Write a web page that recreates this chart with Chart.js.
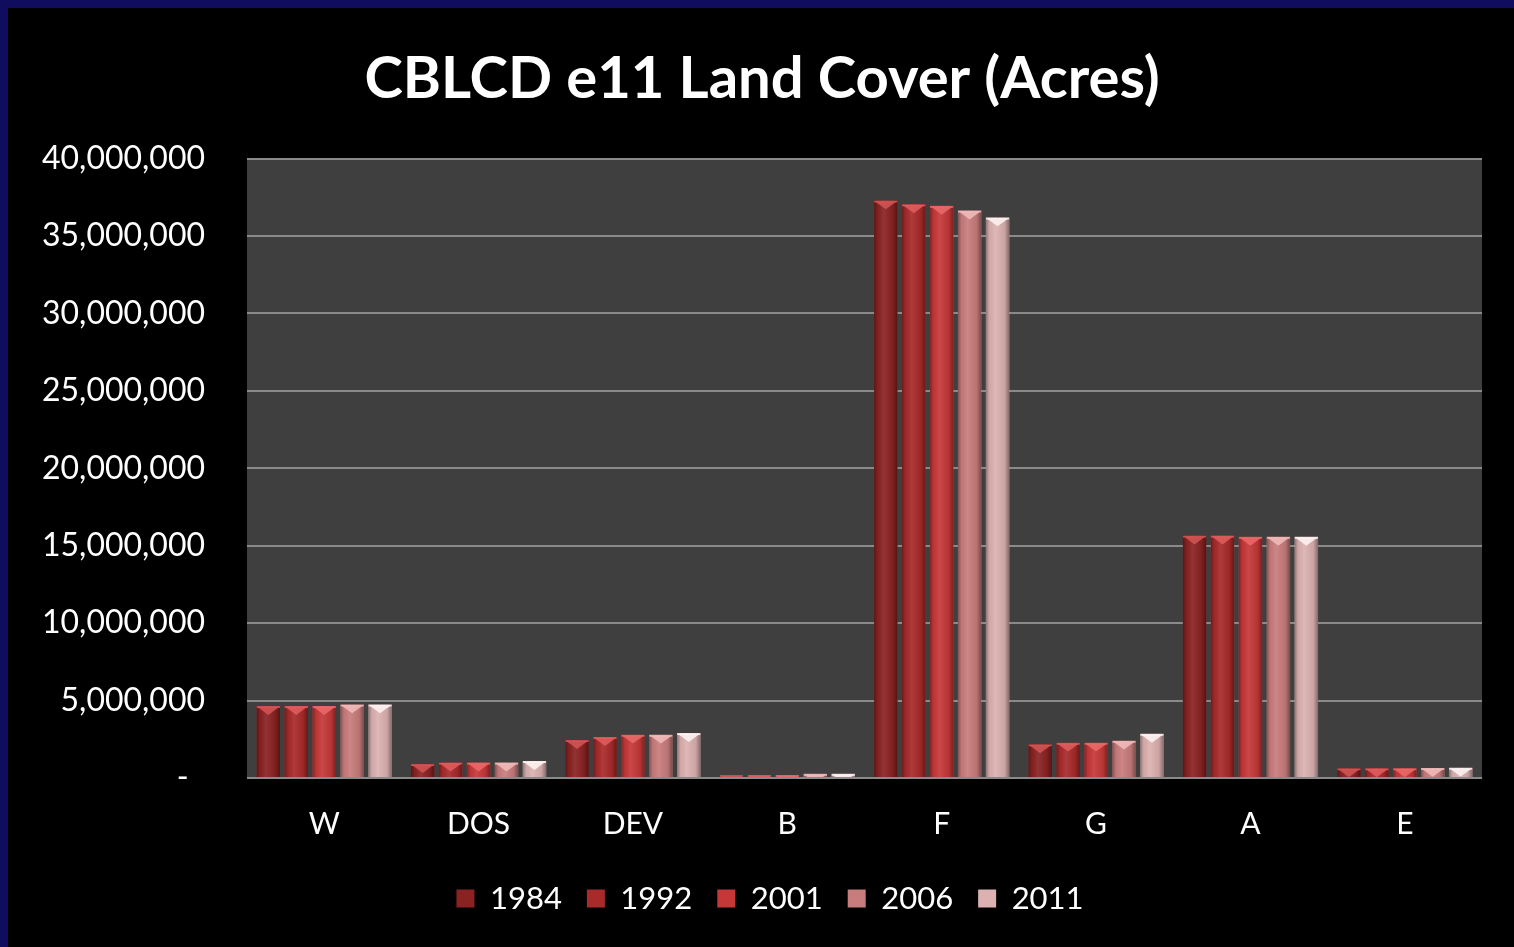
<!DOCTYPE html>
<html>
<head>
<meta charset="utf-8">
<script src="https://cdn.jsdelivr.net/npm/chart.js@4.4.1/dist/chart.umd.min.js"></script>
<style>
  html, body { margin: 0; padding: 0; background: #100c5e; }
  #frame { position: absolute; left: 8px; top: 8px; width: 1506px; height: 939px; background: #000; }
</style>
</head>
<body>
<div id="frame"><canvas id="landCover" width="1506" height="939"></canvas></div>
<script>
const categories = ["W", "DOS", "DEV", "B", "F", "G", "A", "E"];
const years = ["1984", "1992", "2001", "2006", "2011"];

// acres per land cover class
const acres1984 = [4650000, 900000, 2450000, 200000, 37300000, 2180000, 15660000, 630000];
const acres1992 = [4650000, 1000000, 2650000, 200000, 37050000, 2280000, 15660000, 630000];
const acres2001 = [4650000, 1000000, 2800000, 200000, 36950000, 2280000, 15580000, 630000];
const acres2006 = [4750000, 1000000, 2800000, 270000, 36650000, 2410000, 15580000, 650000];
const acres2011 = [4750000, 1100000, 2900000, 270000, 36200000, 2860000, 15580000, 670000];
const yTicks = [0, 5000000, 10000000, 15000000, 20000000, 25000000, 30000000, 35000000, 40000000];

const series = [acres1984, acres1992, acres2001, acres2006, acres2011];
const barColors = ["#8a2222", "#a82a2a", "#c63838", "#c97c7c", "#dcb1b1"];
const tipColors = ["#d45656", "#e05e5e", "#ea6a6a", "#f2bcbc", "#fff4f4"];

const FONT = "Lato";

// plot background
const plotBg = {
    id: "plotBg",
    beforeDraw(chart) {
        const { ctx, chartArea: a } = chart;
        ctx.save();
        ctx.fillStyle = "#3f3f3f";
        ctx.fillRect(a.left, a.top, a.right - a.left, a.bottom - a.top);
        ctx.restore();
    }
};

// cylinder-ish shading and the bevel triangle on top of each bar
const barBevel = {
    id: "barBevel",
    afterDatasetsDraw(chart) {
        const ctx = chart.ctx;
        chart.data.datasets.forEach((ds, i) => {
            const meta = chart.getDatasetMeta(i);
            meta.data.forEach(bar => {
                const w = bar.width, left = bar.x - w / 2, right = bar.x + w / 2;
                const top = bar.y, bottom = bar.base;
                ctx.save();
                ctx.beginPath();
                ctx.rect(left, top, w, bottom - top);
                ctx.clip();
                const g = ctx.createLinearGradient(left, 0, right, 0);
                g.addColorStop(0, "rgba(0,0,0,0.35)");
                g.addColorStop(0.15, "rgba(0,0,0,0.05)");
                g.addColorStop(0.4, "rgba(255,255,255,0.08)");
                g.addColorStop(0.8, "rgba(0,0,0,0.08)");
                g.addColorStop(1, "rgba(0,0,0,0.4)");
                ctx.fillStyle = g;
                ctx.fillRect(left, top, w, bottom - top);
                ctx.fillStyle = tipColors[i];
                ctx.globalAlpha = 0.85;
                ctx.fillRect(left, top, w, 2);
                ctx.beginPath();
                ctx.moveTo(left + 1, top + 1);
                ctx.lineTo(right - 1, top + 1);
                ctx.lineTo(bar.x, top + w * 0.38);
                ctx.closePath();
                ctx.fill();
                ctx.restore();
            });
        });
    }
};

const legendMargin = {
    id: "legendMargin",
    beforeInit(chart) {
        const fit = chart.legend.fit;
        chart.legend.fit = function () {
            fit.bind(chart.legend)();
            this.height += 19;
        };
    },
    afterLayout(chart) {
        const lg = chart.legend;
        lg.top -= 4; lg.bottom -= 4;
        lg.left += 8; lg.right += 8;
    }
};

new Chart(document.getElementById("landCover"), {
    type: "bar",
    data: {
        labels: categories,
        datasets: years.map((y, i) => ({
            label: y,
            data: series[i],
            backgroundColor: barColors[i],
            borderWidth: 0,
            categoryPercentage: 0.905,
            barPercentage: 0.84
        }))
    },
    plugins: [plotBg, barBevel, legendMargin],
    options: {
        responsive: false,
        animation: false,
        layout: { padding: { left: 34, right: 32, top: 0, bottom: 0 } },
        plugins: {
            title: {
                display: true,
                text: "CBLCD e11 Land Cover (Acres)",
                color: "#ffffff",
                font: { family: FONT, size: 58, weight: "bold" },
                padding: { top: 36, bottom: 45 }
            },
            legend: {
                position: "bottom",
                labels: {
                    color: "#ffffff",
                    font: { family: FONT, size: 31 },
                    boxWidth: 18,
                    boxHeight: 18,
                    padding: 25
                }
            },
            tooltip: { enabled: false }
        },
        scales: {
            x: {
                grid: { display: false },
                border: { display: false },
                ticks: { color: "#ffffff", font: { family: FONT, size: 30 }, padding: 20 }
            },
            y: {
                min: 0,
                max: 40000000,
                afterBuildTicks(scale) {
                    scale.ticks = yTicks.map(v => ({ value: v }));
                },
                afterFit(scale) {
                    scale.width -= 42;
                },
                grid: { color: "#8a8a8a", lineWidth: 2, drawTicks: false },
                border: { display: false },
                ticks: {
                    color: "#ffffff",
                    font: { family: FONT, size: 32 },
                    padding: 42,
                    callback: v => v === 0 ? "-  " : v.toLocaleString("en-US")
                }
            }
        }
    }
});
</script>
</body>
</html>
